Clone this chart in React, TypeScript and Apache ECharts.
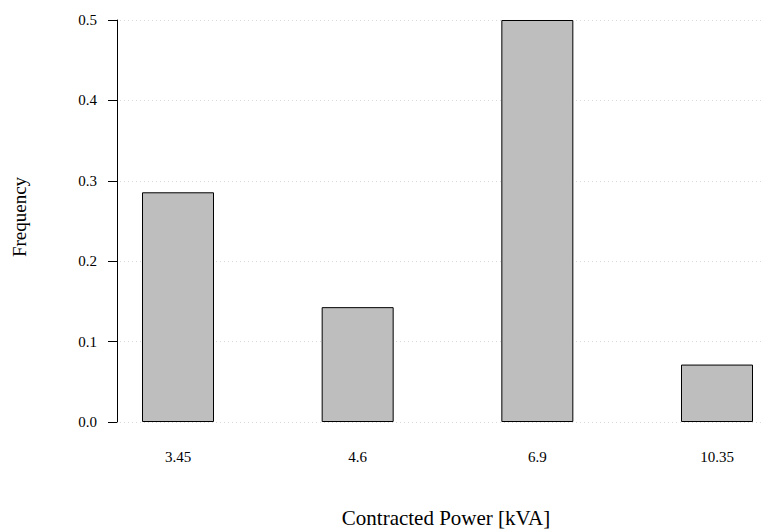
import React, { useEffect, useRef } from "react";
import * as echarts from "echarts";

const categories = ["3.45", "4.6", "6.9", "10.35"];
const frequencies = [4 / 14, 2 / 14, 7 / 14, 1 / 14];
const yTicks = [0, 0.1, 0.2, 0.3, 0.4, 0.5];

const FONT = "'Liberation Serif', 'Times New Roman', serif";

export default function App() {
  const ref = useRef<HTMLDivElement>(null);

  useEffect(() => {
    if (!ref.current) return;
    const chart = echarts.init(ref.current, null, { renderer: "svg" });
    const yMin = yTicks[0];
    const yMax = yTicks[yTicks.length - 1];
    const step = yTicks[1] - yTicks[0];

    chart.setOption({
      animation: false,
      backgroundColor: "#ffffff",
      textStyle: { fontFamily: FONT },
      grid: [
        { left: 178, right: 46, top: 20, bottom: 109 },
        { left: 120, right: 0, top: 20, bottom: 109 },
      ],
      xAxis: [
        {
          type: "category",
          gridIndex: 0,
          data: categories,
          boundaryGap: false,
          axisLine: { show: false },
          axisTick: { show: false },
          axisLabel: { color: "#000", fontSize: 15, fontFamily: FONT, margin: 27 },
          splitLine: { show: false },
        },
        { type: "value", gridIndex: 1, show: false, min: 0, max: 1 },
      ],
      yAxis: [
        {
          type: "value",
          gridIndex: 0,
          min: yMin,
          max: yMax,
          interval: step,
          position: "left",
          offset: 61,
          axisLine: { show: true, lineStyle: { color: "#000", width: 1 } },
          axisTick: { show: true, length: 9, lineStyle: { color: "#000", width: 1 } },
          axisLabel: {
            color: "#000",
            fontSize: 15,
            fontFamily: FONT,
            margin: 20,
            formatter: (v: number) => v.toFixed(1),
          },
          splitLine: { show: false },
        },
        {
          type: "value",
          gridIndex: 1,
          min: yMin,
          max: yMax,
          interval: step,
          axisLine: { show: false },
          axisTick: { show: false },
          axisLabel: { show: false },
          splitLine: {
            show: true,
            lineStyle: { color: "#d9d9d9", type: [1, 3], width: 1 },
          },
        },
      ],
      series: [
        {
          type: "bar",
          xAxisIndex: 0,
          yAxisIndex: 0,
          data: frequencies,
          barWidth: 72,
          clip: false,
          z: 5,
          itemStyle: { color: "#bebebe", borderColor: "#000", borderWidth: 1 },
        },
      ],
      graphic: [
        {
          type: "text",
          x: 446,
          y: 518,
          style: {
            text: "Contracted Power [kVA]",
            font: `21px ${FONT}`,
            fill: "#000",
            align: "center",
            verticalAlign: "middle",
          },
        },
        {
          type: "text",
          x: 19,
          y: 217,
          rotation: Math.PI / 2,
          style: {
            text: "Frequency",
            font: `19px ${FONT}`,
            fill: "#000",
            align: "center",
            verticalAlign: "middle",
          },
        },
      ],
    });

    return () => chart.dispose();
  }, []);

  return (
    <div
      ref={ref}
      style={{ position: "fixed", left: 0, top: 0, width: 763, height: 531 }}
    />
  );
}
